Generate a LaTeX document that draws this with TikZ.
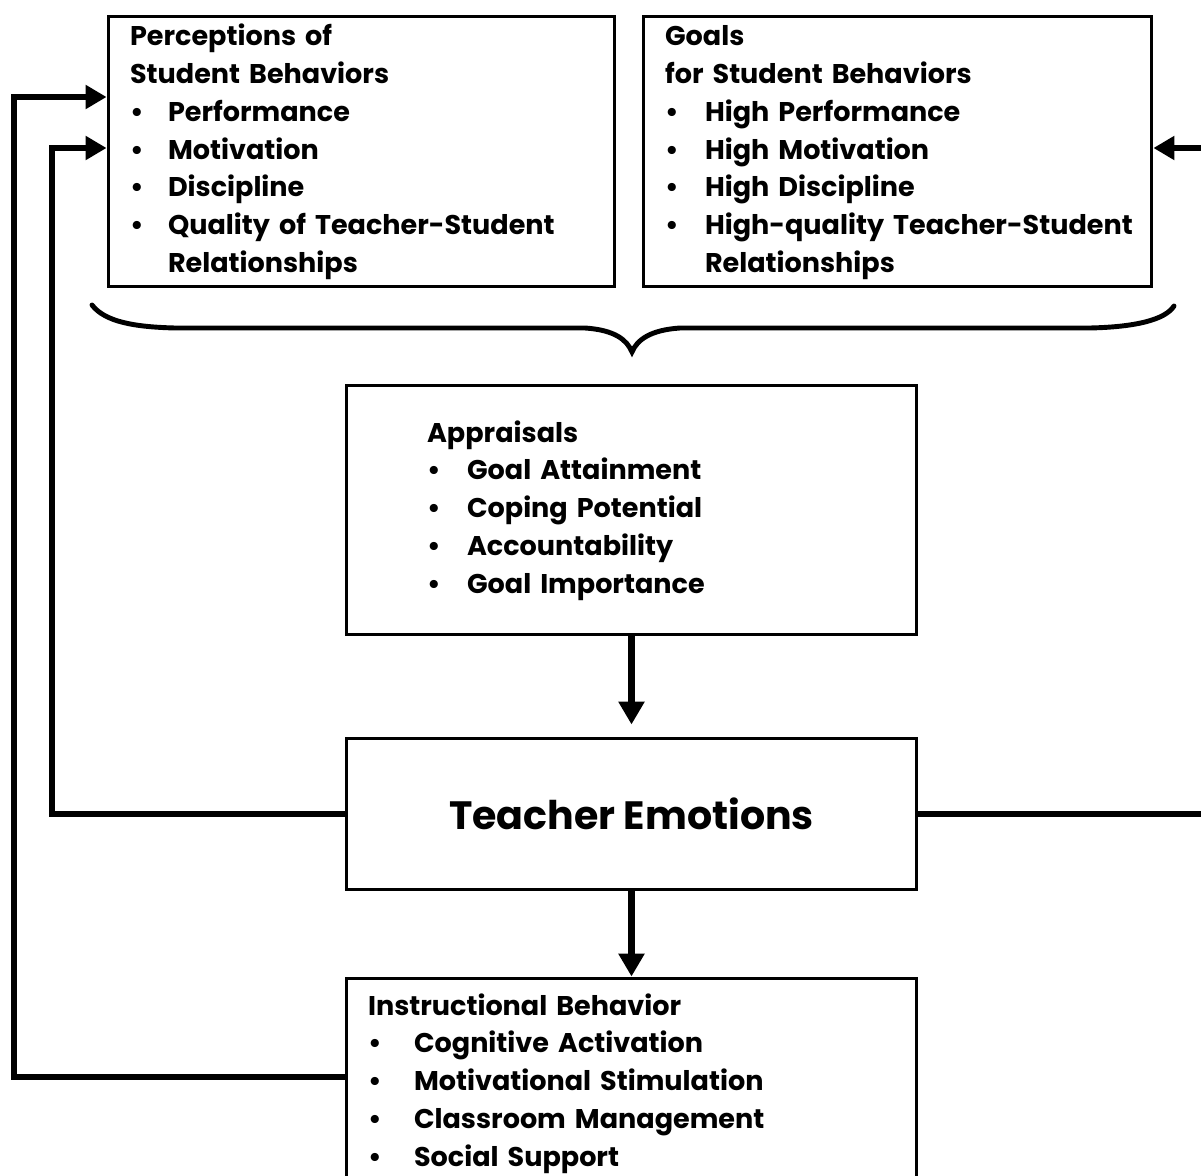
\documentclass[tikz,border=0pt]{standalone}
\usepackage{fontspec}
\setmainfont{Poppins}
\usetikzlibrary{arrows.meta,positioning}
\newcommand{\blist}[2]{\begin{tabular}{@{}p{#1}@{}l@{}}#2\end{tabular}}
\newcommand{\hd}[1]{\multicolumn{2}{@{}l@{}}{#1}}
\tikzset{
  box/.style={draw, line width=1.7pt, rectangle, align=left, inner xsep=0.44cm, inner ysep=0pt,
    font=\fontsize{15.4}{21.5}\selectfont\bfseries},
  arr/.style={line width=3.6pt, -{Triangle[length=0.46cm,width=0.5cm]}},
  fb/.style={line width=3.6pt, -{Triangle[length=0.42cm,width=0.46cm]}},
}
\begin{document}
\begin{tikzpicture}[x=0.02cm,y=-0.02cm]
        \useasboundingbox (0,0) rectangle (1201,1176);
        %BOXES
        \node[box, minimum width=10.14cm, minimum height=5.42cm, text width=9.26cm] (perc) at (361.5,151.5)
          {\blist{0.76cm}{\hd{Perceptions of}\\ \hd{Student Behaviors}\\
           \textbullet & Performance\\ \textbullet & Motivation\\ \textbullet & Discipline\\
           \textbullet & Quality of Teacher-Student\\ & Relationships}};
        \node[box, minimum width=10.18cm, minimum height=5.42cm, text width=9.3cm] (goals) at (897.5,151.5)
          {\blist{0.8cm}{\hd{Goals}\\ \hd{for Student Behaviors}\\
           \textbullet & High Performance\\ \textbullet & High Motivation\\ \textbullet & High Discipline\\
           \textbullet & High-quality Teacher-Student\\ & Relationships}};
        \node[box, minimum width=11.42cm, minimum height=5cm, text width=10.54cm] (appr) at (631.5,510)
          {\hspace*{1.18cm}\blist{0.8cm}{\hd{Appraisals}\\
           \textbullet & Goal Attainment\\ \textbullet & Coping Potential\\
           \textbullet & Accountability\\ \textbullet & Goal Importance}};
        \node[box, minimum width=11.42cm, minimum height=3.04cm, align=center,
          font=\fontsize{22.5}{27}\selectfont\bfseries] (emo) at (631.5,814) {Teacher Emotions};
        \node[box, minimum width=11.42cm, minimum height=4.2cm, text width=10.54cm] (instr) at (631.5,1083)
          {\blist{0.92cm}{\hd{Instructional Behavior}\\
           \textbullet & Cognitive Activation\\ \textbullet & Motivational Stimulation\\
           \textbullet & Classroom Management\\ \textbullet & Social Support}};
        %BRACE
        \draw[line width=2.8pt, line cap=round] (92,305) .. controls (105,322) and (135,327) .. (175,328)
          -- (585,328) .. controls (615,330) and (627,340) .. (632,352)
          .. controls (637,340) and (650,330) .. (680,328) -- (1090,328)
          .. controls (1135,327) and (1165,320) .. (1174,306);
        %ARROWS
        \draw[arr, shorten >=0.24cm] (appr) -- (emo);
        \draw[arr] (emo) -- (instr);
        \coordinate (inA) at (52,148);
        \coordinate (inB) at (14,97);
        \coordinate (inC) at (1215,148);
        \draw[fb] (emo.west) -| (inA) -- (inA -| perc.west);
        \draw[fb] ([yshift=0.12cm]instr.west) -| (inB) -- (inB -| perc.west);
        \draw[fb] (emo.east) -| (inC) -- (inC -| goals.east);
    \end{tikzpicture}
\end{document}
